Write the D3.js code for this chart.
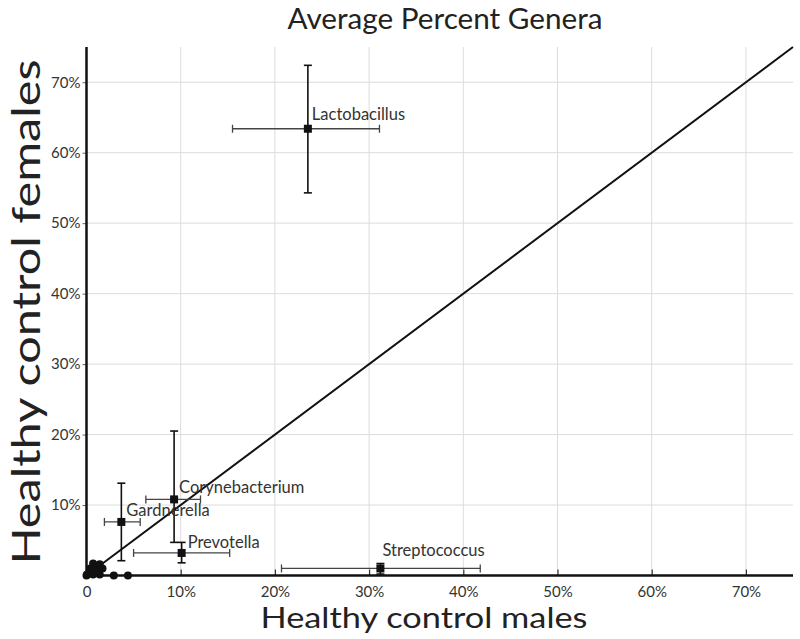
<!DOCTYPE html>
<html>
<head>
<meta charset="utf-8">
<script src="https://cdn.jsdelivr.net/npm/d3@7"></script>
<style>
  html, body { margin: 0; padding: 0; background: #fff; }
  svg { display: block; font-family: Lato, "Open Sans", sans-serif; }
</style>
</head>
<body>
<svg id="chart" width="800" height="639"></svg>
<script>
// ---- Data (percent values) ----
const genera      = ["Lactobacillus", "Corynebacterium", "Gardnerella", "Prevotella", "Streptococcus"];
const maleMean    = [23.5, 9.3, 3.7, 10.1, 31.2];
const maleLow     = [15.5, 6.3, 1.9, 5.0, 20.7];
const maleHigh    = [31.1, 12.1, 5.7, 15.2, 41.8];
const femaleMean  = [63.4, 10.8, 7.6, 3.2, 1.0];
const femaleLow   = [54.3, 4.7, 2.1, 1.8, 0.2];
const femaleHigh  = [72.4, 20.5, 13.1, 4.7, 1.7];
// minor genera (unlabelled)
const minorMale   = [0.7, 1.4, 0.4, 1.1, 1.7, 0.05, 0.7, 1.4, 2.9, 4.4, 0.0];
const minorFemale = [1.7, 1.6, 1.0, 1.0, 1.0, 0.15, 0.15, 0.15, 0.0, 0.0, 0.0];
const xTicks = [0, 10, 20, 30, 40, 50, 60, 70];
const yTicks = [10, 20, 30, 40, 50, 60, 70];
const xTickLabels = ["0", "10%", "20%", "30%", "40%", "50%", "60%", "70%"];
const yTickLabels = ["10%", "20%", "30%", "40%", "50%", "60%", "70%"];
const chartTitle = "Average Percent Genera";
const xTitle = "Healthy control males";
const yTitle = "Healthy control females";

// ---- Layout (not data) ----
const labelDx = [4, 5, 5, 6, 2];
const labelDy = [-9, -6, -6, -5, -12];

const svg = d3.select("#chart");
const plot = { left: 86.5, right: 793, top: 47, bottom: 575.5 };
const x = d3.scaleLinear().domain([0, 75]).range([plot.left, plot.right]);
const y = d3.scaleLinear().domain([0, 75]).range([plot.bottom, plot.top]);

// gridlines
svg.append("g").selectAll("line").data(xTicks.filter(d => d > 0)).join("line")
  .attr("x1", d => x(d)).attr("x2", d => x(d))
  .attr("y1", plot.bottom).attr("y2", plot.top)
  .attr("stroke", "#dcdcdc").attr("stroke-width", 1);
svg.append("g").selectAll("line").data(yTicks).join("line")
  .attr("y1", d => y(d)).attr("y2", d => y(d))
  .attr("x1", plot.left).attr("x2", plot.right)
  .attr("stroke", "#dcdcdc").attr("stroke-width", 1);

// axes
const xAxis = d3.axisBottom(x).tickValues(xTicks).tickFormat((d, i) => xTickLabels[i])
  .tickSizeInner(-6).tickSizeOuter(0).tickPadding(11);
const gx = svg.append("g").attr("transform", `translate(0,${plot.bottom})`).call(xAxis);
gx.select(".domain").remove();
gx.selectAll(".tick line").attr("stroke", "#333").attr("stroke-width", 1.2);
gx.selectAll(".tick text").attr("font-size", 15).attr("fill", "#333")
  .attr("font-family", "Lato, sans-serif");

const yAxis = d3.axisLeft(y).tickValues(yTicks).tickFormat((d, i) => yTickLabels[i])
  .tickSize(4).tickSizeOuter(0).tickPadding(2);
const gy = svg.append("g").attr("transform", `translate(${plot.left},0)`).call(yAxis);
gy.select(".domain").remove();
gy.selectAll(".tick line").attr("stroke", "#666").attr("stroke-width", 1);
gy.selectAll(".tick text").attr("font-size", 15).attr("fill", "#333")
  .attr("font-family", "Lato, sans-serif");

// axis lines
svg.append("line").attr("x1", x(0)).attr("x2", x(75)).attr("y1", y(0)).attr("y2", y(0))
  .attr("stroke", "#111").attr("stroke-width", 2.5);
svg.append("line").attr("x1", x(0)).attr("x2", x(0)).attr("y1", y(0) + 1).attr("y2", y(75))
  .attr("stroke", "#111").attr("stroke-width", 2.5);

// diagonal y = x
svg.append("line").attr("x1", x(0)).attr("y1", y(0)).attr("x2", x(75)).attr("y2", y(75))
  .attr("stroke", "#111").attr("stroke-width", 2);

// minor genera dots
svg.append("g").selectAll("circle").data(minorMale).join("circle")
  .attr("cx", d => x(d)).attr("cy", (d, i) => y(minorFemale[i])).attr("r", 4)
  .attr("fill", "#111");

// error bars
const cap = 4;
const eb = svg.append("g");
genera.forEach((g, i) => {
  const cx = x(maleMean[i]), cy = y(femaleMean[i]);
  eb.append("line").attr("x1", x(maleLow[i])).attr("x2", x(maleHigh[i])).attr("y1", cy).attr("y2", cy)
    .attr("stroke", "#444").attr("stroke-width", 1.3);
  [maleLow[i], maleHigh[i]].forEach(v => eb.append("line")
    .attr("x1", x(v)).attr("x2", x(v)).attr("y1", cy - cap).attr("y2", cy + cap)
    .attr("stroke", "#444").attr("stroke-width", 1.3));
  eb.append("line").attr("x1", cx).attr("x2", cx).attr("y1", y(femaleLow[i])).attr("y2", y(femaleHigh[i]))
    .attr("stroke", "#111").attr("stroke-width", 1.6);
  [femaleLow[i], femaleHigh[i]].forEach(v => eb.append("line")
    .attr("x1", cx - cap).attr("x2", cx + cap).attr("y1", y(v)).attr("y2", y(v))
    .attr("stroke", "#111").attr("stroke-width", 1.6));
  eb.append("rect").attr("x", cx - 4).attr("y", cy - 4).attr("width", 8).attr("height", 8).attr("fill", "#111");
  eb.append("text").attr("x", cx + labelDx[i]).attr("y", cy + labelDy[i])
    .attr("font-size", 16.5).attr("fill", "#333").text(g);
});

// titles
svg.append("text").attr("x", 445).attr("y", 29).attr("text-anchor", "middle")
  .attr("font-size", 28.5).attr("fill", "#222")
  .attr("textLength", 315).attr("lengthAdjust", "spacingAndGlyphs").text(chartTitle);
svg.append("text").attr("x", 424).attr("y", 628).attr("text-anchor", "middle")
  .attr("font-size", 29).attr("fill", "#222")
  .attr("textLength", 327).attr("lengthAdjust", "spacingAndGlyphs").text(xTitle);
svg.append("text").attr("transform", "translate(40,312) rotate(-90)").attr("text-anchor", "middle")
  .attr("font-size", 39).attr("fill", "#222")
  .attr("textLength", 505).attr("lengthAdjust", "spacingAndGlyphs").text(yTitle);
</script>
</body>
</html>
